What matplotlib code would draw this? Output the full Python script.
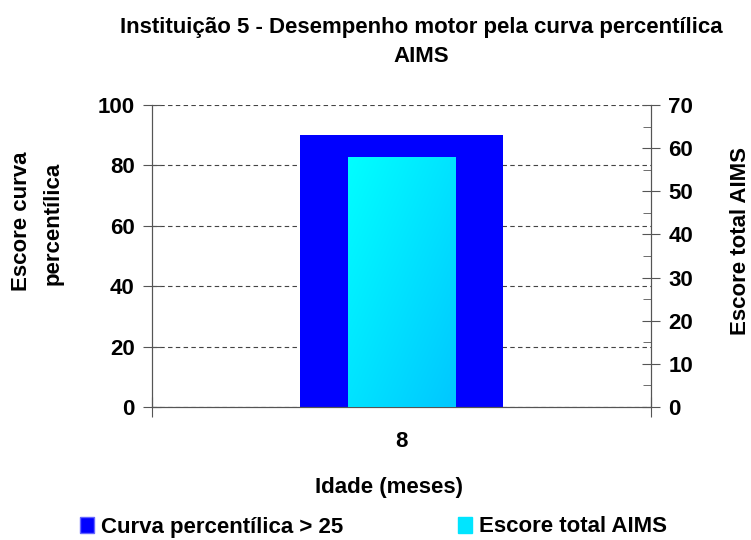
import matplotlib.pyplot as plt
import numpy as np
from matplotlib.patches import Patch

plt.rcParams['font.family'] = ['Liberation Sans', 'DejaVu Sans']
plt.rcParams['font.weight'] = 'bold'

# data
idade = ['8']
curva_percentilica = [90]
escore_total_aims = [58]

W, H = 751, 540
fig = plt.figure(figsize=(W / 100, H / 100), dpi=100)
ax = fig.add_axes([152 / W, 1 - 407 / H, 499 / W, 302 / H])
ax2 = ax.twinx()

x = np.arange(len(idade))
axis_col = '#555555'
fs = 16

# left axis bar (blue)
ax.bar(x, curva_percentilica, width=0.407, color='#0000FF', zorder=2)
ax.set_ylim(0, 100)
ax.set_yticks(np.arange(0, 101, 20))
ax.yaxis.grid(True, linestyle=(0, (4, 3)), color='#444444', linewidth=0.8)
ax.set_axisbelow(True)
ax.set_xlim(-0.5, 0.5)

# right axis bar (cyan gradient, light at top-left)
bars = ax2.bar(x, escore_total_aims, width=0.216, color='none', zorder=3)
for b in bars:
    x0, w, h = b.get_x(), b.get_width(), b.get_height()
    gx, gy = np.meshgrid(np.linspace(0, 1, 100), np.linspace(0, 1, 100))
    t = (gx + gy) / 2
    grad = np.zeros((100, 100, 3))
    grad[..., 1] = 1.0 - 0.22 * t
    grad[..., 2] = 1.0
    im = ax2.imshow(grad, extent=[x0, x0 + w, 0, h], origin='upper',
                    aspect='auto', zorder=3)
    im.set_clip_path(b)
ax2.set_xlim(-0.5, 0.5)
ax2.set_ylim(0, 70)
ax2.set_yticks(np.arange(0, 71, 10))
ax2.set_yticks(np.arange(5, 70, 10), minor=True)

for a in (ax, ax2):
    for s in a.spines.values():
        s.set_color(axis_col)
    a.spines['top'].set_visible(False)
    a.tick_params(axis='y', which='major', direction='inout', length=13,
                  color=axis_col, labelsize=fs, pad=6)
ax2.tick_params(axis='y', which='minor', direction='in', length=6, color=axis_col)

# x axis: ticks at category edges, label in the middle
ax.set_xticks([-0.5, 0.5])
ax.set_xticklabels(['', ''])
ax.tick_params(axis='x', which='major', direction='inout', length=14, color=axis_col)
ax.set_xticks(x, minor=True)
ax.set_xticklabels(idade, minor=True)
ax.tick_params(axis='x', which='minor', length=0, labelsize=fs, pad=17)

for lab in ax.get_yticklabels() + ax2.get_yticklabels() + ax.get_xticklabels(minor=True):
    lab.set_fontweight('bold')

# titles and axis labels
fig.text(421 / W, 1 - 27 / H, 'Instituição 5 - Desempenho motor pela curva percentílica',
         ha='center', va='center', fontsize=fs, fontweight='bold')
fig.text(421 / W, 1 - 57 / H, 'AIMS', ha='center', va='center', fontsize=fs, fontweight='bold')
fig.text(389 / W, 1 - 487 / H, 'Idade (meses)', ha='center', va='center',
         fontsize=fs, fontweight='bold')
fig.text(22 / W, 1 - 221 / H, 'Escore curva', ha='center', va='center', rotation=90,
         fontsize=fs, fontweight='bold')
fig.text(53 / W, 1 - 223 / H, 'percentílica', ha='center', va='center', rotation=90,
         fontsize=fs, fontweight='bold')
fig.text(740 / W, 1 - 241 / H, 'Escore total AIMS', ha='center', va='center', rotation=90,
         fontsize=fs, fontweight='bold')

handles = [Patch(facecolor='#0000FF', edgecolor='#6666FF'),
           Patch(facecolor='#00E5FF', edgecolor='#00E5FF')]
fig.legend(handles, ['Curva percentílica > 25', 'Escore total AIMS'],
           loc='center', bbox_to_anchor=(373.5 / W, 1 - 527 / H), ncol=2, frameon=False,
           prop={'size': fs, 'weight': 'bold'}, handlelength=0.63, handleheight=0.7,
           handletextpad=0.3, columnspacing=5.2)

fig.savefig('out.png', dpi=100)
